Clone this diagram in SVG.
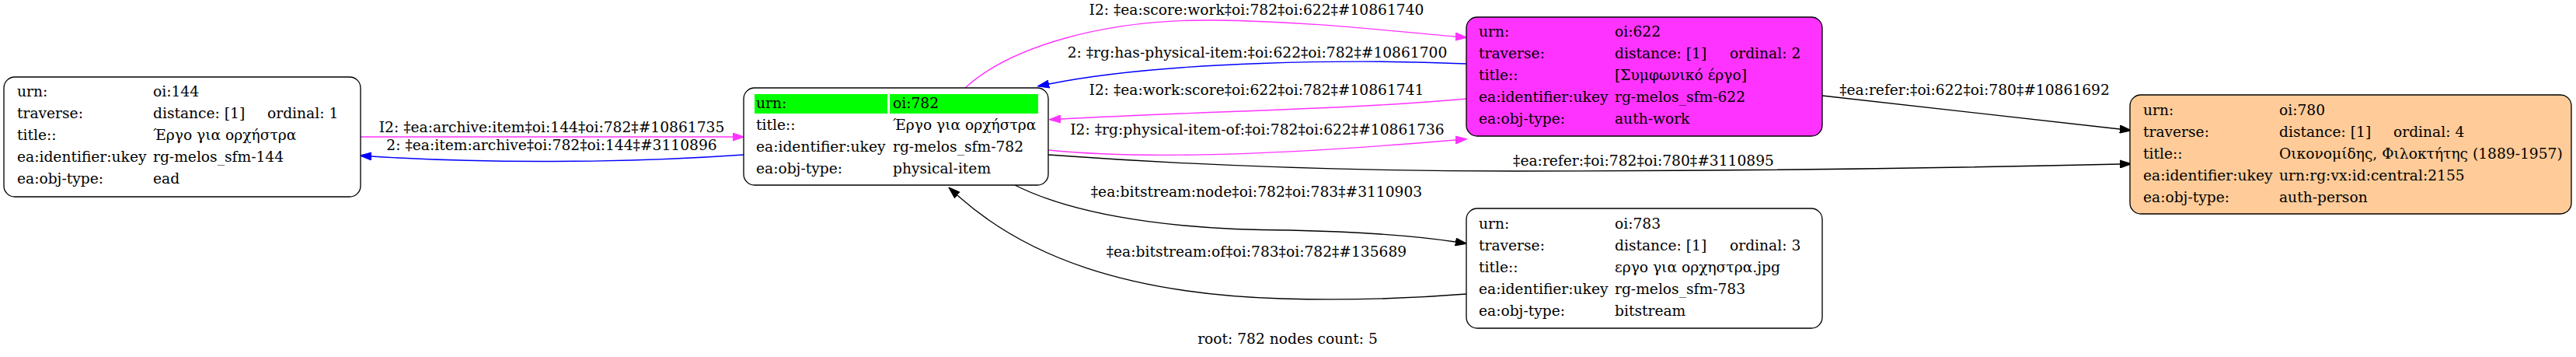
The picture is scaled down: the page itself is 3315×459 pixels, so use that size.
<svg xmlns="http://www.w3.org/2000/svg" width="3315" height="459" viewBox="0 0 3315 459">
<style>
text{font-family:"DejaVu Serif","Liberation Serif",serif;font-size:18.67px;fill:#000}
.lbl{text-anchor:middle}
.box{stroke:#000;stroke-width:1.33}
.e{fill:none;stroke-width:1.33}
.m{stroke:#ff33ff}.b{stroke:#0000ff}.k{stroke:#000}
</style>
<defs>
<marker id="am" markerUnits="userSpaceOnUse" markerWidth="15" markerHeight="11" viewBox="0 -5 14 10" refX="0" refY="0" orient="auto"><path d="M0,-4.7L14,0L0,4.7z" fill="#ff33ff" stroke="#ff33ff"/></marker>
<marker id="ab" markerUnits="userSpaceOnUse" markerWidth="15" markerHeight="11" viewBox="0 -5 14 10" refX="0" refY="0" orient="auto"><path d="M0,-4.7L14,0L0,4.7z" fill="#0000ff" stroke="#0000ff"/></marker>
<marker id="ak" markerUnits="userSpaceOnUse" markerWidth="15" markerHeight="11" viewBox="0 -5 14 10" refX="0" refY="0" orient="auto"><path d="M0,-4.7L14,0L0,4.7z" fill="#000" stroke="#000"/></marker>
</defs>
<rect width="3315" height="459" fill="#fff"/>
<g id="connectors">
<path class="e m" d="M464,176L943,176" marker-end="url(#am)"/>
<text class="lbl" x="710" y="170">I2: ‡ea:archive:item‡oi:144‡oi:782‡#10861735</text>
<path class="e b" d="M957,199C800,210 620,210 478,201" marker-end="url(#ab)"/>
<text class="lbl" x="710" y="193">2: ‡ea:item:archive‡oi:782‡oi:144‡#3110896</text>
<path class="e m" d="M1242,113C1300,60 1420,25 1560,26C1680,27 1790,40 1873,47" marker-end="url(#am)"/>
<text class="lbl" x="1617" y="19">I2: ‡ea:score:work‡oi:782‡oi:622‡#10861740</text>
<path class="e b" d="M1887,82C1750,76 1500,78 1350,108" marker-end="url(#ab)"/>
<text class="lbl" x="1618" y="74">2: ‡rg:has-physical-item:‡oi:622‡oi:782‡#10861700</text>
<path class="e m" d="M1887,127C1750,140 1550,143 1365,153" marker-end="url(#am)"/>
<text class="lbl" x="1617" y="122">I2: ‡ea:work:score‡oi:622‡oi:782‡#10861741</text>
<path class="e m" d="M1349,193C1450,203 1600,203 1873,180" marker-end="url(#am)"/>
<text class="lbl" x="1618" y="173">I2: ‡rg:physical-item-of:‡oi:782‡oi:622‡#10861736</text>
<path class="e k" d="M1349,199C1500,210 1700,220 1950,220C2300,220 2550,215 2728,211" marker-end="url(#ak)"/>
<text class="lbl" x="2115" y="213">‡ea:refer:‡oi:782‡oi:780‡#3110895</text>
<path class="e k" d="M2345,123L2728,166" marker-end="url(#ak)"/>
<text class="lbl" x="2541" y="122">‡ea:refer:‡oi:622‡oi:780‡#10861692</text>
<path class="e k" d="M1306,238C1400,285 1550,296 1660,296C1750,298 1820,303 1873,311" marker-end="url(#ak)"/>
<text class="lbl" x="1617" y="253">‡ea:bitstream:node‡oi:782‡oi:783‡#3110903</text>
<path class="e k" d="M1887,378C1800,385 1720,386 1650,384C1450,378 1320,330 1232,251" marker-end="url(#ak)"/>
<text class="lbl" x="1617" y="330">‡ea:bitstream:of‡oi:783‡oi:782‡#135689</text>
</g>
<g id="node-144">
<rect class="box" x="5" y="99" width="459" height="154" rx="14" fill="#fff"/>
<text x="22" y="124">urn:</text><text x="197" y="124">oi:144</text>
<text x="22" y="152">traverse:</text><text x="197" y="152">distance: [1]</text><text x="344" y="152">ordinal: 1</text>
<text x="22" y="180">title::</text><text x="197" y="180">Έργο για ορχήστρα</text>
<text x="22" y="208">ea:identifier:ukey</text><text x="197" y="208">rg-melos_sfm-144</text>
<text x="22" y="236">ea:obj-type:</text><text x="197" y="236">ead</text>
</g>
<g id="node-782">
<rect class="box" x="957" y="113" width="392" height="125" rx="14" fill="#fff"/>
<rect x="971" y="121" width="171" height="25" fill="#00ff00"/>
<rect x="1145" y="121" width="191" height="25" fill="#00ff00"/>
<text x="973" y="139">urn:</text><text x="1149" y="139">oi:782</text>
<text x="973" y="167">title::</text><text x="1149" y="167">Έργο για ορχήστρα</text>
<text x="973" y="195">ea:identifier:ukey</text><text x="1149" y="195">rg-melos_sfm-782</text>
<text x="973" y="223">ea:obj-type:</text><text x="1149" y="223">physical-item</text>
</g>
<g id="node-622">
<rect class="box" x="1887" y="22" width="458" height="153" rx="14" fill="#ff33ff"/>
<text x="1903" y="47">urn:</text><text x="2078" y="47">oi:622</text>
<text x="1903" y="75">traverse:</text><text x="2078" y="75">distance: [1]</text><text x="2226" y="75">ordinal: 2</text>
<text x="1903" y="103">title::</text><text x="2078" y="103">[Συμφωνικό έργο]</text>
<text x="1903" y="131">ea:identifier:ukey</text><text x="2078" y="131">rg-melos_sfm-622</text>
<text x="1903" y="159">ea:obj-type:</text><text x="2078" y="159">auth-work</text>
</g>
<g id="node-783">
<rect class="box" x="1887" y="268" width="458" height="154" rx="14" fill="#fff"/>
<text x="1903" y="294">urn:</text><text x="2078" y="294">oi:783</text>
<text x="1903" y="322">traverse:</text><text x="2078" y="322">distance: [1]</text><text x="2226" y="322">ordinal: 3</text>
<text x="1903" y="350">title::</text><text x="2078" y="350">εργο για ορχηστρα.jpg</text>
<text x="1903" y="378">ea:identifier:ukey</text><text x="2078" y="378">rg-melos_sfm-783</text>
<text x="1903" y="406">ea:obj-type:</text><text x="2078" y="406">bitstream</text>
</g>
<g id="node-780">
<rect class="box" x="2741" y="122" width="568" height="153" rx="14" fill="#ffcc99"/>
<text x="2758" y="148">urn:</text><text x="2933" y="148">oi:780</text>
<text x="2758" y="176">traverse:</text><text x="2933" y="176">distance: [1]</text><text x="3080" y="176">ordinal: 4</text>
<text x="2758" y="204">title::</text><text x="2933" y="204">Οικονομίδης, Φιλοκτήτης (1889-1957)</text>
<text x="2758" y="232">ea:identifier:ukey</text><text x="2933" y="232">urn:rg:vx:id:central:2155</text>
<text x="2758" y="260">ea:obj-type:</text><text x="2933" y="260">auth-person</text>
</g>
<text class="lbl" x="1657" y="442">root: 782 nodes count: 5</text>
</svg>
